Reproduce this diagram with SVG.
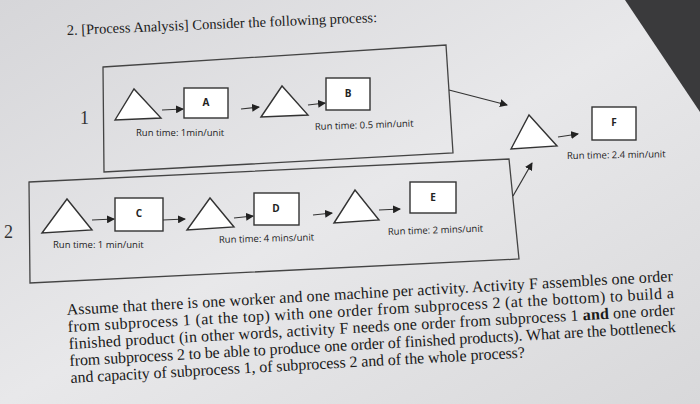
<svg xmlns="http://www.w3.org/2000/svg" width="700" height="404" viewBox="0 0 700 404">
<defs>
<linearGradient id="bg" x1="0" y1="0" x2="1" y2="1">
<stop offset="0" stop-color="#d6d6d9"/><stop offset="0.5" stop-color="#e8e8ea"/><stop offset="1" stop-color="#d8d8da"/>
</linearGradient>
<marker id="ah" markerWidth="8" markerHeight="8" refX="7" refY="4" orient="auto" markerUnits="userSpaceOnUse"><path d="M0,0 L8,4 L0,8 z" fill="#222"/></marker>
<style>
.sh{fill:#fff;stroke:#333;stroke-width:1.4}
.fr{fill:none;stroke:#444;stroke-width:1.3}
.cn{stroke:#333;stroke-width:1.2;fill:none;marker-end:url(#ah)}
.lb{font-family:"Open Sans","Liberation Sans",sans-serif;font-size:9.5px;fill:#222}
.bl{font-family:"Open Sans","Liberation Sans",sans-serif;font-size:10px;font-weight:bold;fill:#222;text-anchor:middle}
.tx{font-family:"Liberation Serif",serif;font-size:16px;fill:#1a1a1a}
.tt{font-family:"Liberation Serif",serif;font-size:14.5px;fill:#1a1a1a}
.hw{font-family:"Liberation Serif",serif;font-size:18px;fill:#333}
</style>
</defs>
<rect width="700" height="404" fill="url(#bg)"/>
<polygon points="625,0 700,0 700,112" fill="#3a3a3c"/>
<text class="tt" x="67" y="35" transform="rotate(-2.4 67 35)">2. [Process Analysis] Consider the following process:</text>
<g id="frame1"><polygon class="fr" points="103,67 446,45 453,153 104,172"/></g>
<g id="frame2"><polygon class="fr" points="29,182 509,159 519,259 30,283"/></g>
<text class="hw" x="80" y="124">1</text>
<text class="hw" x="4" y="238">2</text>
<g id="t1"><polygon class="sh" points="115,120 134,89 161,118"/></g>
<g id="A"><rect class="sh" x="184" y="88" width="44" height="30"/><text class="bl" x="206" y="106">A</text></g>
<g id="t2"><polygon class="sh" points="261,117 282,86 308,115"/></g>
<g id="B"><rect class="sh" x="326" y="78" width="44" height="32"/><text class="bl" x="348" y="97">B</text></g>
<g id="t3"><polygon class="sh" points="511,149 529,115 557,146"/></g>
<g id="F"><rect class="sh" x="592" y="107" width="44" height="33"/><text class="bl" x="614" y="126">F</text></g>
<g id="t4"><polygon class="sh" points="42,233 67,199 92,230"/></g>
<g id="C"><rect class="sh" x="115" y="198" width="48" height="33"/><text class="bl" x="139" y="217">C</text></g>
<g id="t5"><polygon class="sh" points="187,230 210,198 234,227"/></g>
<g id="D"><rect class="sh" x="254" y="193" width="45" height="32"/><text class="bl" x="276" y="212">D</text></g>
<g id="t6"><polygon class="sh" points="334,223 355,190 379,220"/></g>
<g id="E"><rect class="sh" x="410" y="182" width="46" height="31"/><text class="bl" x="433" y="201">E</text></g>
<g id="connectors">
<path class="cn" d="M162,110 L183,109"/>
<path class="cn" d="M241,109 L259,107"/>
<path class="cn" d="M308,105 L325,103"/>
<path class="cn" d="M449,90 L507,105"/>
<path class="cn" d="M513,196 L532,163"/>
<path class="cn" d="M558,137 L578,134"/>
<path class="cn" d="M92,220 L114,219"/>
<path class="cn" d="M163,220 L185,219"/>
<path class="cn" d="M234,218 L253,216"/>
<path class="cn" d="M313,215 L332,213"/>
<path class="cn" d="M379,210 L400,209"/>
</g>
<text class="lb" x="136" y="136">Run time: 1min/unit</text>
<text class="lb" x="315" y="130" transform="rotate(-2 315 130)">Run time: 0.5 min/unit</text>
<text class="lb" x="567" y="159" transform="rotate(-1 567 159)">Run time: 2.4 min/unit</text>
<text class="lb" x="53" y="248">Run time: 1 min/unit</text>
<text class="lb" x="219" y="243" transform="rotate(-1.5 219 243)">Run time: 4 mins/unit</text>
<text class="lb" x="388" y="235" transform="rotate(-2 388 235)">Run time: 2 mins/unit</text>
<g transform="rotate(-3.2 67 315)">
<text class="tx" x="67" y="315" textLength="607">Assume that there is one worker and one machine per activity. Activity F assembles one order</text>
<text class="tx" x="67" y="332" textLength="607">from subprocess 1 (at the top) with one order from subprocess 2 (at the bottom) to build a</text>
<text class="tx" x="67" y="349" textLength="607">finished product (in other words, activity F needs one order from subprocess 1 <tspan font-weight="bold">and</tspan> one order</text>
<text class="tx" x="67" y="366" textLength="607">from subprocess 2 to be able to produce one order of finished products). What are the bottleneck</text>
<text class="tx" x="67" y="383" textLength="455">and capacity of subprocess 1, of subprocess 2 and of the whole process?</text>
</g>
</svg>
